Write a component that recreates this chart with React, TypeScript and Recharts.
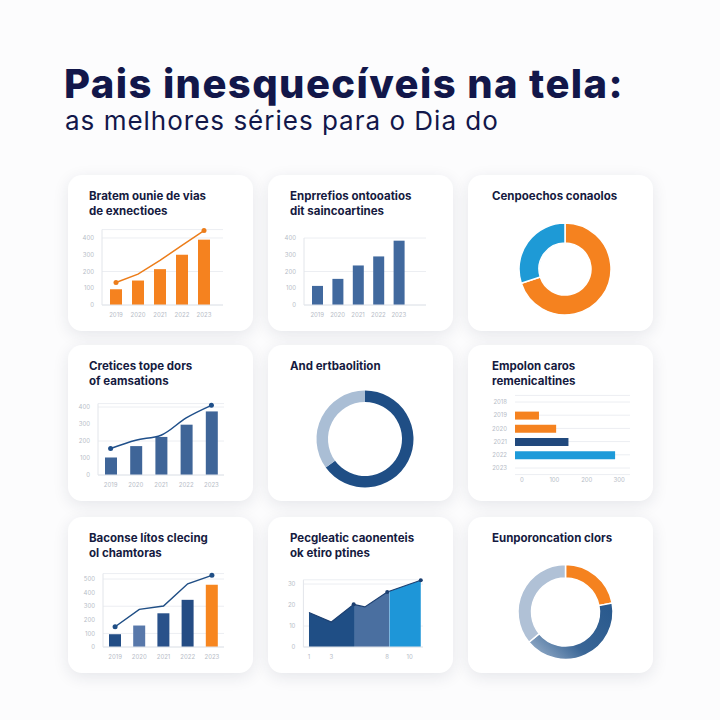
import React from 'react';
import {
  Area,
  AreaChart,
  Bar,
  BarChart,
  CartesianGrid,
  Cell,
  ComposedChart,
  Line,
  Pie,
  PieChart,
  XAxis,
  YAxis,
} from 'recharts';

// dados
const temporadas = ['2019', '2020', '2021', '2022', '2023'];
const audienciaBarras = [94, 146, 214, 300, 390];
const audienciaLinha = [134, 184, 266, 356, 444];
const avaliacaoBarras = [114, 156, 236, 290, 384];
const generoNomes = ['Drama', 'Comédia'];
const generoValores = [70, 30];
const fasBarras = [103, 170, 224, 296, 374];
const fasLinha = [156, 205, 234, 336, 410];
const distNomes = ['Família', 'Outros'];
const distValores = [65, 35];
const anosHoriz = ['2018', '2019', '2020', '2021', '2022', '2023'];
const valoresHoriz = [0, 74, 127, 165, 309, 0];
const criticasBarras = [94, 158, 248, 347, 458];
const criticasLinha = [149, 277, 302, 465, 527];
const episodios = [1, 3, 5, 6, 8, 11];
const notasEpisodios = [16.4, 11.9, 20.3, 19.1, 26.2, 31.8];
const corNomes = ['Laranja', 'Azul', 'Cinza'];
const corValores = [22, 42, 36];

const ticks400 = [0, 100, 200, 300, 400];
const ticks500 = [0, 100, 200, 300, 400, 500];
const ticksHoriz = [0, 100, 200, 300];
const ticksArea = [0, 10, 20, 30];
const ticksEpisodio = [1, 3, 8, 10];

const NAVY = '#151a40';
const ORANGE = '#f5821f';
const GRID = '#eceef2';
const AXIS = '#e2e5ea';
const TICK = { fontSize: 6, fill: '#b7bdc7', fontFamily: 'Inter' };
const FONT = 'Inter, "Noto Sans", sans-serif';

const COLS = [68, 268, 468];
const ROWS = [175, 345, 517];
const CW = 185;
const CH = 156;
const TITLE_LEFT = [21, 22, 24];

const plotMargins = (
  col: number,
  row: number,
  x0: number,
  x1: number,
  y0: number,
  y1: number,
  yw: number,
  xh: number
) => ({
  left: x0 - COLS[col] - yw,
  right: COLS[col] + CW - x1,
  top: y0 - ROWS[row],
  bottom: ROWS[row] + CH - y1 - xh,
});

const pickDots = (keep: number[], color: string, r = 2.5) => (p: any) => {
  const { cx, cy, index } = p;
  if (!keep.includes(index)) return <g key={`d${index}`} />;
  return <circle key={`d${index}`} cx={cx} cy={cy} r={r} fill={color} />;
};

const Card = ({
  col,
  row,
  title,
  children,
}: {
  col: number;
  row: number;
  title: string[];
  children: React.ReactNode;
}) => (
  <div
    style={{
      position: 'absolute',
      left: COLS[col],
      top: ROWS[row],
      width: CW,
      height: CH,
      background: '#fff',
      borderRadius: 14,
      boxShadow: '0 4px 16px rgba(30,40,70,0.10)',
    }}
  >
    <div style={{ position: 'absolute', left: 0, top: 0 }}>{children}</div>
    <div
      style={{
        position: 'absolute',
        left: TITLE_LEFT[col],
        top: 14,
        fontFamily: FONT,
        fontSize: 11.5,
        fontWeight: 700,
        lineHeight: '14.5px',
        color: NAVY,
        whiteSpace: 'nowrap',
      }}
    >
      {title.map((t) => (
        <div key={t}>{t}</div>
      ))}
    </div>
  </div>
);

const data1 = temporadas.map((t, i) => ({ t, bar: audienciaBarras[i], line: audienciaLinha[i] }));
const data2 = temporadas.map((t, i) => ({ t, bar: avaliacaoBarras[i] }));
const data3 = generoNomes.map((n, i) => ({ n, v: generoValores[i] }));
const data4 = temporadas.map((t, i) => ({ t, bar: fasBarras[i], line: fasLinha[i] }));
const data5 = distNomes.map((n, i) => ({ n, v: distValores[i] }));
const data6 = anosHoriz.map((a, i) => ({ a, v: valoresHoriz[i] }));
const data7 = temporadas.map((t, i) => ({ t, bar: criticasBarras[i], line: criticasLinha[i] }));
const data8 = episodios.map((e, i) => ({ e, n: notasEpisodios[i] }));
const data9 = corNomes.map((n, i) => ({ n, v: corValores[i] }));

const hColors = [ORANGE, ORANGE, ORANGE, '#21497d', '#1d9ad9', ORANGE];
const bar7Colors = ['#234e86', '#5878aa', '#29518a', '#244c84', '#f7861f'];

export default function App() {
  return (
    <div
      style={{
        position: 'absolute',
        left: 0,
        top: 0,
        width: 720,
        height: 720,
        background: '#fcfcfd',
        overflow: 'hidden',
      }}
    >
      <div
        style={{
          position: 'absolute',
          left: 64,
          top: 63.5,
          fontFamily: FONT,
          fontSize: 40,
          fontWeight: 800,
          lineHeight: 1,
          color: '#12174a',
          letterSpacing: 1.4,
          whiteSpace: 'nowrap',
        }}
      >
        Pais inesquecíveis na tela:
      </div>
      <div
        style={{
          position: 'absolute',
          left: 65,
          top: 107.5,
          fontFamily: FONT,
          fontSize: 26,
          fontWeight: 400,
          lineHeight: 1,
          color: '#12174a',
          letterSpacing: 1,
          whiteSpace: 'nowrap',
        }}
      >
        as melhores séries para o Dia do
      </div>

      <Card col={0} row={0} title={['Bratem ounie de vias', 'de exnectioes']}>
        <ComposedChart width={CW} height={CH} data={data1} margin={plotMargins(0, 0, 102, 223, 229.6, 305, 20, 14)}>
          <CartesianGrid vertical={false} stroke={GRID} />
          <XAxis dataKey='t' tick={TICK} axisLine={{ stroke: AXIS }} tickLine={false} height={14} interval={0} padding={{ left: 3, right: 8 }} />
          <YAxis domain={[0, 450]} ticks={ticks400} tick={TICK} axisLine={{ stroke: AXIS }} tickLine={false} width={20} />
          <Bar dataKey='bar' fill={ORANGE} barSize={12} isAnimationActive={false} />
          <Line type='linear' dataKey='line' stroke='#ec7d1a' strokeWidth={1.5} dot={pickDots([0, 4], '#ec7d1a')} activeDot={false} isAnimationActive={false} />
        </ComposedChart>
      </Card>

      <Card col={1} row={0} title={['Enprrefios ontooatios', 'dit saincoartines']}>
        <BarChart width={CW} height={CH} data={data2} margin={plotMargins(1, 0, 304, 426, 238, 305, 20, 14)}>
          <CartesianGrid vertical={false} stroke={GRID} />
          <XAxis dataKey='t' tick={TICK} axisLine={{ stroke: AXIS }} tickLine={false} height={14} interval={0} padding={{ left: 3, right: 17 }} />
          <YAxis domain={[0, 400]} ticks={ticks400} tick={TICK} axisLine={{ stroke: AXIS }} tickLine={false} width={20} />
          <Bar dataKey='bar' fill='#41699e' barSize={11} isAnimationActive={false} />
        </BarChart>
      </Card>

      <Card col={2} row={0} title={['Cenpoechos conaolos']}>
        <PieChart width={CW} height={CH}>
          <Pie data={data3} dataKey='v' nameKey='n' cx={92} cy={89} innerRadius={26} outerRadius={46} startAngle={90} endAngle={-270} stroke='#fff' strokeWidth={1.5} isAnimationActive={false}>
            <Cell fill={ORANGE} />
            <Cell fill='#1e9ad6' />
          </Pie>
        </PieChart>
      </Card>

      <Card col={0} row={1} title={['Cretices tope dors', 'of eamsations']}>
        <ComposedChart width={CW} height={CH} data={data4} margin={plotMargins(0, 1, 98, 224, 403.6, 475, 20, 14)}>
          <CartesianGrid vertical={false} stroke={GRID} />
          <XAxis dataKey='t' tick={TICK} axisLine={{ stroke: AXIS }} tickLine={false} height={14} interval={0} />
          <YAxis domain={[0, 420]} ticks={ticks400} tick={TICK} axisLine={{ stroke: AXIS }} tickLine={false} width={20} />
          <Bar dataKey='bar' fill='#3f6598' barSize={12} isAnimationActive={false} />
          <Line type='monotone' dataKey='line' stroke='#1f4f8a' strokeWidth={1.5} dot={pickDots([0, 4], '#1f4f8a')} activeDot={false} isAnimationActive={false} />
        </ComposedChart>
      </Card>

      <Card col={1} row={1} title={['And ertbaolition']}>
        <PieChart width={CW} height={CH}>
          <Pie data={data5} dataKey='v' nameKey='n' cx={92} cy={89} innerRadius={37} outerRadius={48.5} startAngle={90} endAngle={-270} stroke='none' isAnimationActive={false}>
            <Cell fill='#1f4e85' />
            <Cell fill='#aabed5' />
          </Pie>
        </PieChart>
      </Card>

      <Card col={2} row={1} title={['Empolon caros', 'remenicaltines']}>
        <BarChart layout='vertical' width={CW} height={CH} data={data6} margin={plotMargins(2, 1, 515, 630, 395.4, 474.6, 22, 12)}>
          <CartesianGrid vertical={false} stroke={GRID} />
          <XAxis type='number' domain={[0, 355]} ticks={ticksHoriz} tick={{ ...TICK, dx: 7 }} axisLine={false} tickLine={false} tickSize={1} height={12} />
          <YAxis type='category' dataKey='a' tick={TICK} axisLine={false} tickLine={false} width={22} interval={0} />
          <Bar dataKey='v' barSize={8} isAnimationActive={false}>
            {data6.map((d, i) => (
              <Cell key={d.a} fill={hColors[i]} />
            ))}
          </Bar>
        </BarChart>
      </Card>

      <Card col={0} row={2} title={['Baconse lítos clecing', 'ol chamtoras']}>
        <ComposedChart width={CW} height={CH} data={data7} margin={plotMargins(0, 2, 103, 224, 573.6, 647, 20, 14)}>
          <CartesianGrid vertical={false} stroke={GRID} />
          <XAxis dataKey='t' tick={TICK} axisLine={{ stroke: AXIS }} tickLine={false} height={14} interval={0} />
          <YAxis domain={[0, 540]} ticks={ticks500} tick={TICK} axisLine={{ stroke: AXIS }} tickLine={false} width={20} />
          <Bar dataKey='bar' barSize={12} isAnimationActive={false}>
            {data7.map((d, i) => (
              <Cell key={d.t} fill={bar7Colors[i]} />
            ))}
          </Bar>
          <Line type='linear' dataKey='line' stroke='#1f4e85' strokeWidth={1.5} dot={pickDots([0, 4], '#1f4e85')} activeDot={false} isAnimationActive={false} />
        </ComposedChart>
      </Card>

      <Card col={1} row={2} title={['Pecgleatic caonenteis', 'ok etiro ptines']}>
        <AreaChart width={CW} height={CH} data={data8} margin={plotMargins(1, 2, 303.4, 423, 579.8, 647, 18, 14)}>
          <defs>
            <linearGradient id='segFill' x1='0' y1='0' x2='1' y2='0'>
              <stop offset='0' stopColor='#1f4e85' />
              <stop offset='0.405' stopColor='#1f4e85' />
              <stop offset='0.41' stopColor='#6f8fb8' />
              <stop offset='0.415' stopColor='#4a6fa0' />
              <stop offset='0.715' stopColor='#4a6fa0' />
              <stop offset='0.72' stopColor='#7fb8e0' />
              <stop offset='0.725' stopColor='#1e96d8' />
              <stop offset='1' stopColor='#1e96d8' />
            </linearGradient>
          </defs>
          <CartesianGrid vertical={false} stroke={GRID} />
          <XAxis type='number' dataKey='e' domain={[0.5, 11.2]} ticks={ticksEpisodio} tick={TICK} axisLine={{ stroke: AXIS }} tickLine={false} height={14} />
          <YAxis domain={[0, 32]} ticks={ticksArea} tick={TICK} axisLine={{ stroke: AXIS }} tickLine={false} width={18} />
          <Area type='linear' dataKey='n' stroke='#1c3f70' strokeWidth={1.2} fill='url(#segFill)' fillOpacity={1} dot={pickDots([2, 4, 5], '#1c3f70', 2)} activeDot={false} isAnimationActive={false} />
        </AreaChart>
      </Card>

      <Card col={2} row={2} title={['Eunporoncation clors']}>
        <PieChart width={CW} height={CH}>
          <defs>
            <linearGradient id='ringBlue' x1='1' y1='0.2' x2='0' y2='0.9'>
              <stop offset='0' stopColor='#2a5a8e' />
              <stop offset='0.55' stopColor='#3a6696' />
              <stop offset='1' stopColor='#9cb2cc' />
            </linearGradient>
          </defs>
          <Pie data={data9} dataKey='v' nameKey='n' cx={92.5} cy={90} innerRadius={34} outerRadius={47.5} startAngle={90} endAngle={-270} stroke='#fff' strokeWidth={1.5} isAnimationActive={false}>
            <Cell fill={ORANGE} />
            <Cell fill='url(#ringBlue)' />
            <Cell fill='#b0c1d6' />
          </Pie>
        </PieChart>
      </Card>
    </div>
  );
}
